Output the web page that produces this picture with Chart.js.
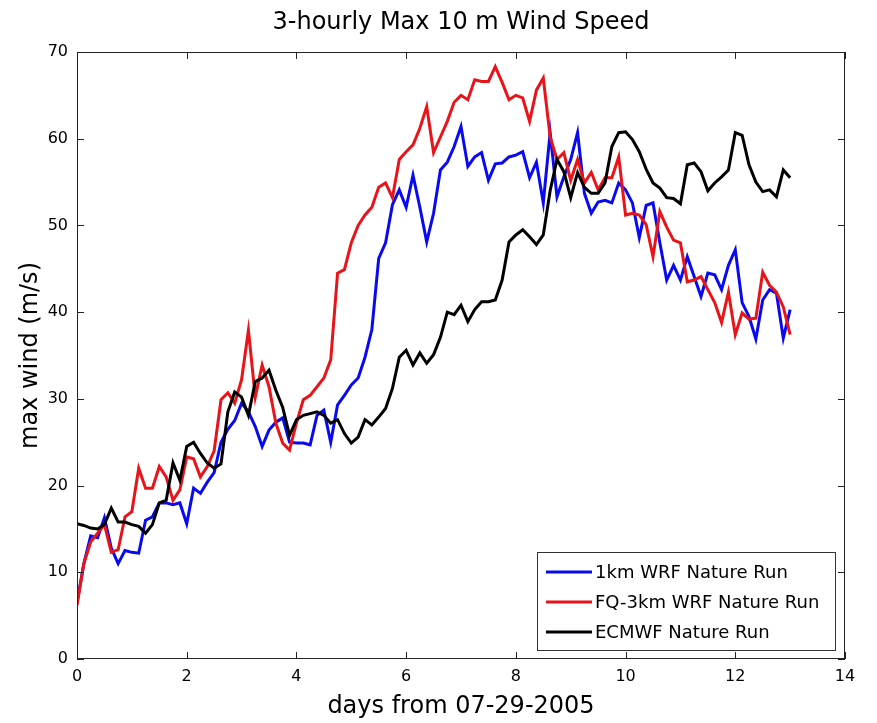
<!DOCTYPE html>
<html lang="en">
<head>
  <meta charset="UTF-8" />
  <title>3-hourly Max 10 m Wind Speed</title>
  <script src="https://cdn.jsdelivr.net/npm/chart.js"></script>
  <style>
    html, body { margin: 0; padding: 0; background: #fff; }
    #wrap { width: 877px; height: 723px; }
  </style>
</head>
<body>
  <div id="wrap"><canvas id="windChart" width="877" height="723"></canvas></div>
  <script>
    // 3-hourly output, 0..13 days
    const days = Array.from({ length: 105 }, (_, i) => i / 8);

    const wrf1km = [
      6.5, 11, 14.2, 14, 16.3, 12.8, 11, 12.5, 12.3, 12.2,
      16, 16.4, 18, 18, 17.8, 18, 15.6, 19.7, 19.1, 20.4,
      21.5, 25, 26.5, 27.5, 29.5, 28.5, 26.8, 24.5, 26.4, 27.3,
      27.8, 25, 24.9, 24.9, 24.7, 28.1, 28.7, 25, 29.3, 30.4,
      31.6, 32.4, 34.8, 38, 46.2, 48, 52.4, 54.1, 52.1, 55.8,
      52.1, 48.1, 51.4, 56.4, 57.3, 59.1, 61.4, 56.8, 57.9, 58.4,
      55.2, 57.1, 57.2, 57.9, 58.1, 58.5, 55.5, 57.3, 52.6, 60.7,
      53.3, 55.6, 57.6, 60.7, 53.7, 51.4, 52.7, 52.9, 52.6, 54.9,
      54.1, 52.6, 48.6, 52.3, 52.6, 48, 43.7, 45.4, 43.7, 46.4,
      44.1, 41.8, 44.5, 44.3, 42.6, 45.4, 47.2, 41.1, 39.5, 36.9,
      41.4, 42.6, 42.2, 37, 40.3
    ];

    const fq3km = [
      6.2, 11, 13.5, 14.5, 15.5, 12.3, 12.6, 16.4, 17, 22,
      19.7, 19.7, 22.2, 21, 18.3, 19.5, 23.3, 23.1, 21, 22.2,
      24, 29.9, 30.7, 29.5, 32.2, 37.9, 30.2, 33.9, 31.4, 27.2,
      24.9, 24.1, 27.2, 29.9, 30.4, 31.4, 32.4, 34.5, 44.5, 44.9,
      48, 50, 51.2, 52.1, 54.4, 54.9, 53.2, 57.6, 58.5, 59.3,
      61.2, 63.7, 58.4, 60.2, 62, 64.2, 65, 64.5, 66.8, 66.6,
      66.6, 68.3, 66.5, 64.5, 65, 64.7, 62, 65.6, 67, 60.2,
      57.6, 58.4, 55.2, 57.6, 54.9, 56.1, 54.1, 55.5, 55.5, 57.9,
      51.2, 51.4, 51.2, 50.1, 46.4, 51.6, 49.8, 48.3, 48, 43.5,
      43.7, 44.1, 42.6, 41.1, 38.8, 42.3, 37.4, 39.9, 39.2, 39.3,
      44.6, 43.1, 42.3, 40.6, 37.4
    ];

    const ecmwf = [
      15.6, 15.4, 15.1, 15, 15.5, 17.4, 15.8, 15.8, 15.5, 15.3,
      14.5, 15.5, 18, 18.3, 22.6, 20.6, 24.5, 25, 23.7, 22.6,
      22, 22.5, 28.5, 30.8, 30.2, 28.1, 32, 32.4, 33.3, 31,
      29, 25.8, 27.6, 28.1, 28.3, 28.5, 28.1, 27.2, 27.6, 26,
      24.9, 25.6, 27.6, 27, 27.9, 28.9, 31.2, 34.8, 35.6, 33.9,
      35.3, 34.1, 35.1, 37.1, 40, 39.7, 40.8, 38.9, 40.3, 41.2,
      41.2, 41.4, 43.7, 48.1, 48.9, 49.5, 48.7, 47.8, 48.9, 54,
      57.6, 56.2, 53.2, 56.1, 54.4, 53.7, 53.7, 54.9, 59.1, 60.7,
      60.8, 59.9, 58.5, 56.5, 54.9, 54.3, 53.2, 53.1, 52.5, 57,
      57.2, 56.2, 54, 54.9, 55.6, 56.4, 60.7, 60.4, 57, 55,
      53.9, 54.1, 53.3, 56.4, 55.5
    ];

    const seriesNames = ['1km WRF Nature Run', 'FQ-3km WRF Nature Run', 'ECMWF Nature Run'];
    const xTicks = [0, 2, 4, 6, 8, 10, 12, 14];
    const yTicks = [0, 10, 20, 30, 40, 50, 60, 70];

    const FONT = 'DejaVu Sans';

    // box, inward ticks, title and legend drawn in MATLAB style
    const matlabBox = {
      id: 'matlabBox',
      afterDraw(chart) {
        const { ctx, chartArea: a, scales } = chart;
        ctx.save();
        ctx.strokeStyle = '#222';
        ctx.lineWidth = 1;
        ctx.strokeRect(a.left + 0.5, a.top + 0.5, a.right - a.left - 1, a.bottom - a.top - 1);
        ctx.beginPath();
        xTicks.forEach(v => {
          const x = Math.round(scales.x.getPixelForValue(v)) + 0.5;
          ctx.moveTo(x, a.bottom); ctx.lineTo(x, a.bottom - 7);
          ctx.moveTo(x, a.top); ctx.lineTo(x, a.top + 7);
        });
        yTicks.forEach(v => {
          const y = Math.round(scales.y.getPixelForValue(v)) + 0.5;
          ctx.moveTo(a.left, y); ctx.lineTo(a.left + 7, y);
          ctx.moveTo(a.right, y); ctx.lineTo(a.right - 7, y);
        });
        ctx.stroke();

        // title
        ctx.fillStyle = '#000';
        ctx.font = '24px "' + FONT + '"';
        ctx.textAlign = 'center';
        ctx.textBaseline = 'middle';
        ctx.fillText('3-hourly Max 10 m Wind Speed', (a.left + a.right) / 2, 23);

        // legend inside lower right
        const bx = a.right - 308, by = a.bottom - 107, bw = 298, bh = 98;
        ctx.fillStyle = '#fff';
        ctx.fillRect(bx, by, bw, bh);
        ctx.strokeStyle = '#333';
        ctx.strokeRect(bx + 0.5, by + 0.5, bw, bh);
        ctx.font = '18px "' + FONT + '"';
        ctx.textAlign = 'left';
        chart.data.datasets.forEach((ds, i) => {
          const y = by + 20 + i * 30;
          ctx.strokeStyle = ds.borderColor;
          ctx.lineWidth = 3;
          ctx.beginPath();
          ctx.moveTo(bx + 9, y); ctx.lineTo(bx + 55, y);
          ctx.stroke();
          ctx.fillStyle = '#000';
          ctx.fillText(ds.label, bx + 58, y + 1);
        });
        ctx.restore();
      }
    };

    new Chart(document.getElementById('windChart'), {
      type: 'line',
      data: {
        labels: days,
        datasets: [
          { label: seriesNames[0], data: wrf1km, borderColor: '#0a0af0', borderWidth: 3, pointRadius: 0, tension: 0, order: 3 },
          { label: seriesNames[1], data: fq3km, borderColor: '#e8141a', borderWidth: 3, pointRadius: 0, tension: 0, order: 2 },
          { label: seriesNames[2], data: ecmwf, borderColor: '#000000', borderWidth: 3, pointRadius: 0, tension: 0, order: 1 }
        ]
      },
      options: {
        responsive: false,
        animation: false,
        layout: { padding: { top: 52, right: 32, left: 0, bottom: 0 } },
        plugins: { legend: { display: false }, title: { display: false }, tooltip: { enabled: false } },
        scales: {
          x: {
            type: 'linear',
            min: 0, max: 14,
            afterFit: s => { s.height = 64; },
            afterBuildTicks: s => { s.ticks = xTicks.map(v => ({ value: v })); },
            grid: { display: false, drawTicks: false },
            border: { display: false },
            ticks: { color: '#000', padding: 8, font: { family: FONT, size: 16 } },
            title: { display: true, text: 'days from 07-29-2005', color: '#000', padding: { top: 0, bottom: 2 }, font: { family: FONT, size: 24 } }
          },
          y: {
            min: 0, max: 70,
            afterFit: s => { s.width = 77; },
            afterBuildTicks: s => { s.ticks = yTicks.map(v => ({ value: v })); },
            grid: { display: false, drawTicks: false },
            border: { display: false },
            ticks: { color: '#000', padding: 9, font: { family: FONT, size: 16 } },
            title: { display: true, text: 'max wind (m/s)', color: '#000', padding: { top: 16, bottom: 0 }, font: { family: FONT, size: 24 } }
          }
        }
      },
      plugins: [matlabBox]
    });
  </script>
</body>
</html>
